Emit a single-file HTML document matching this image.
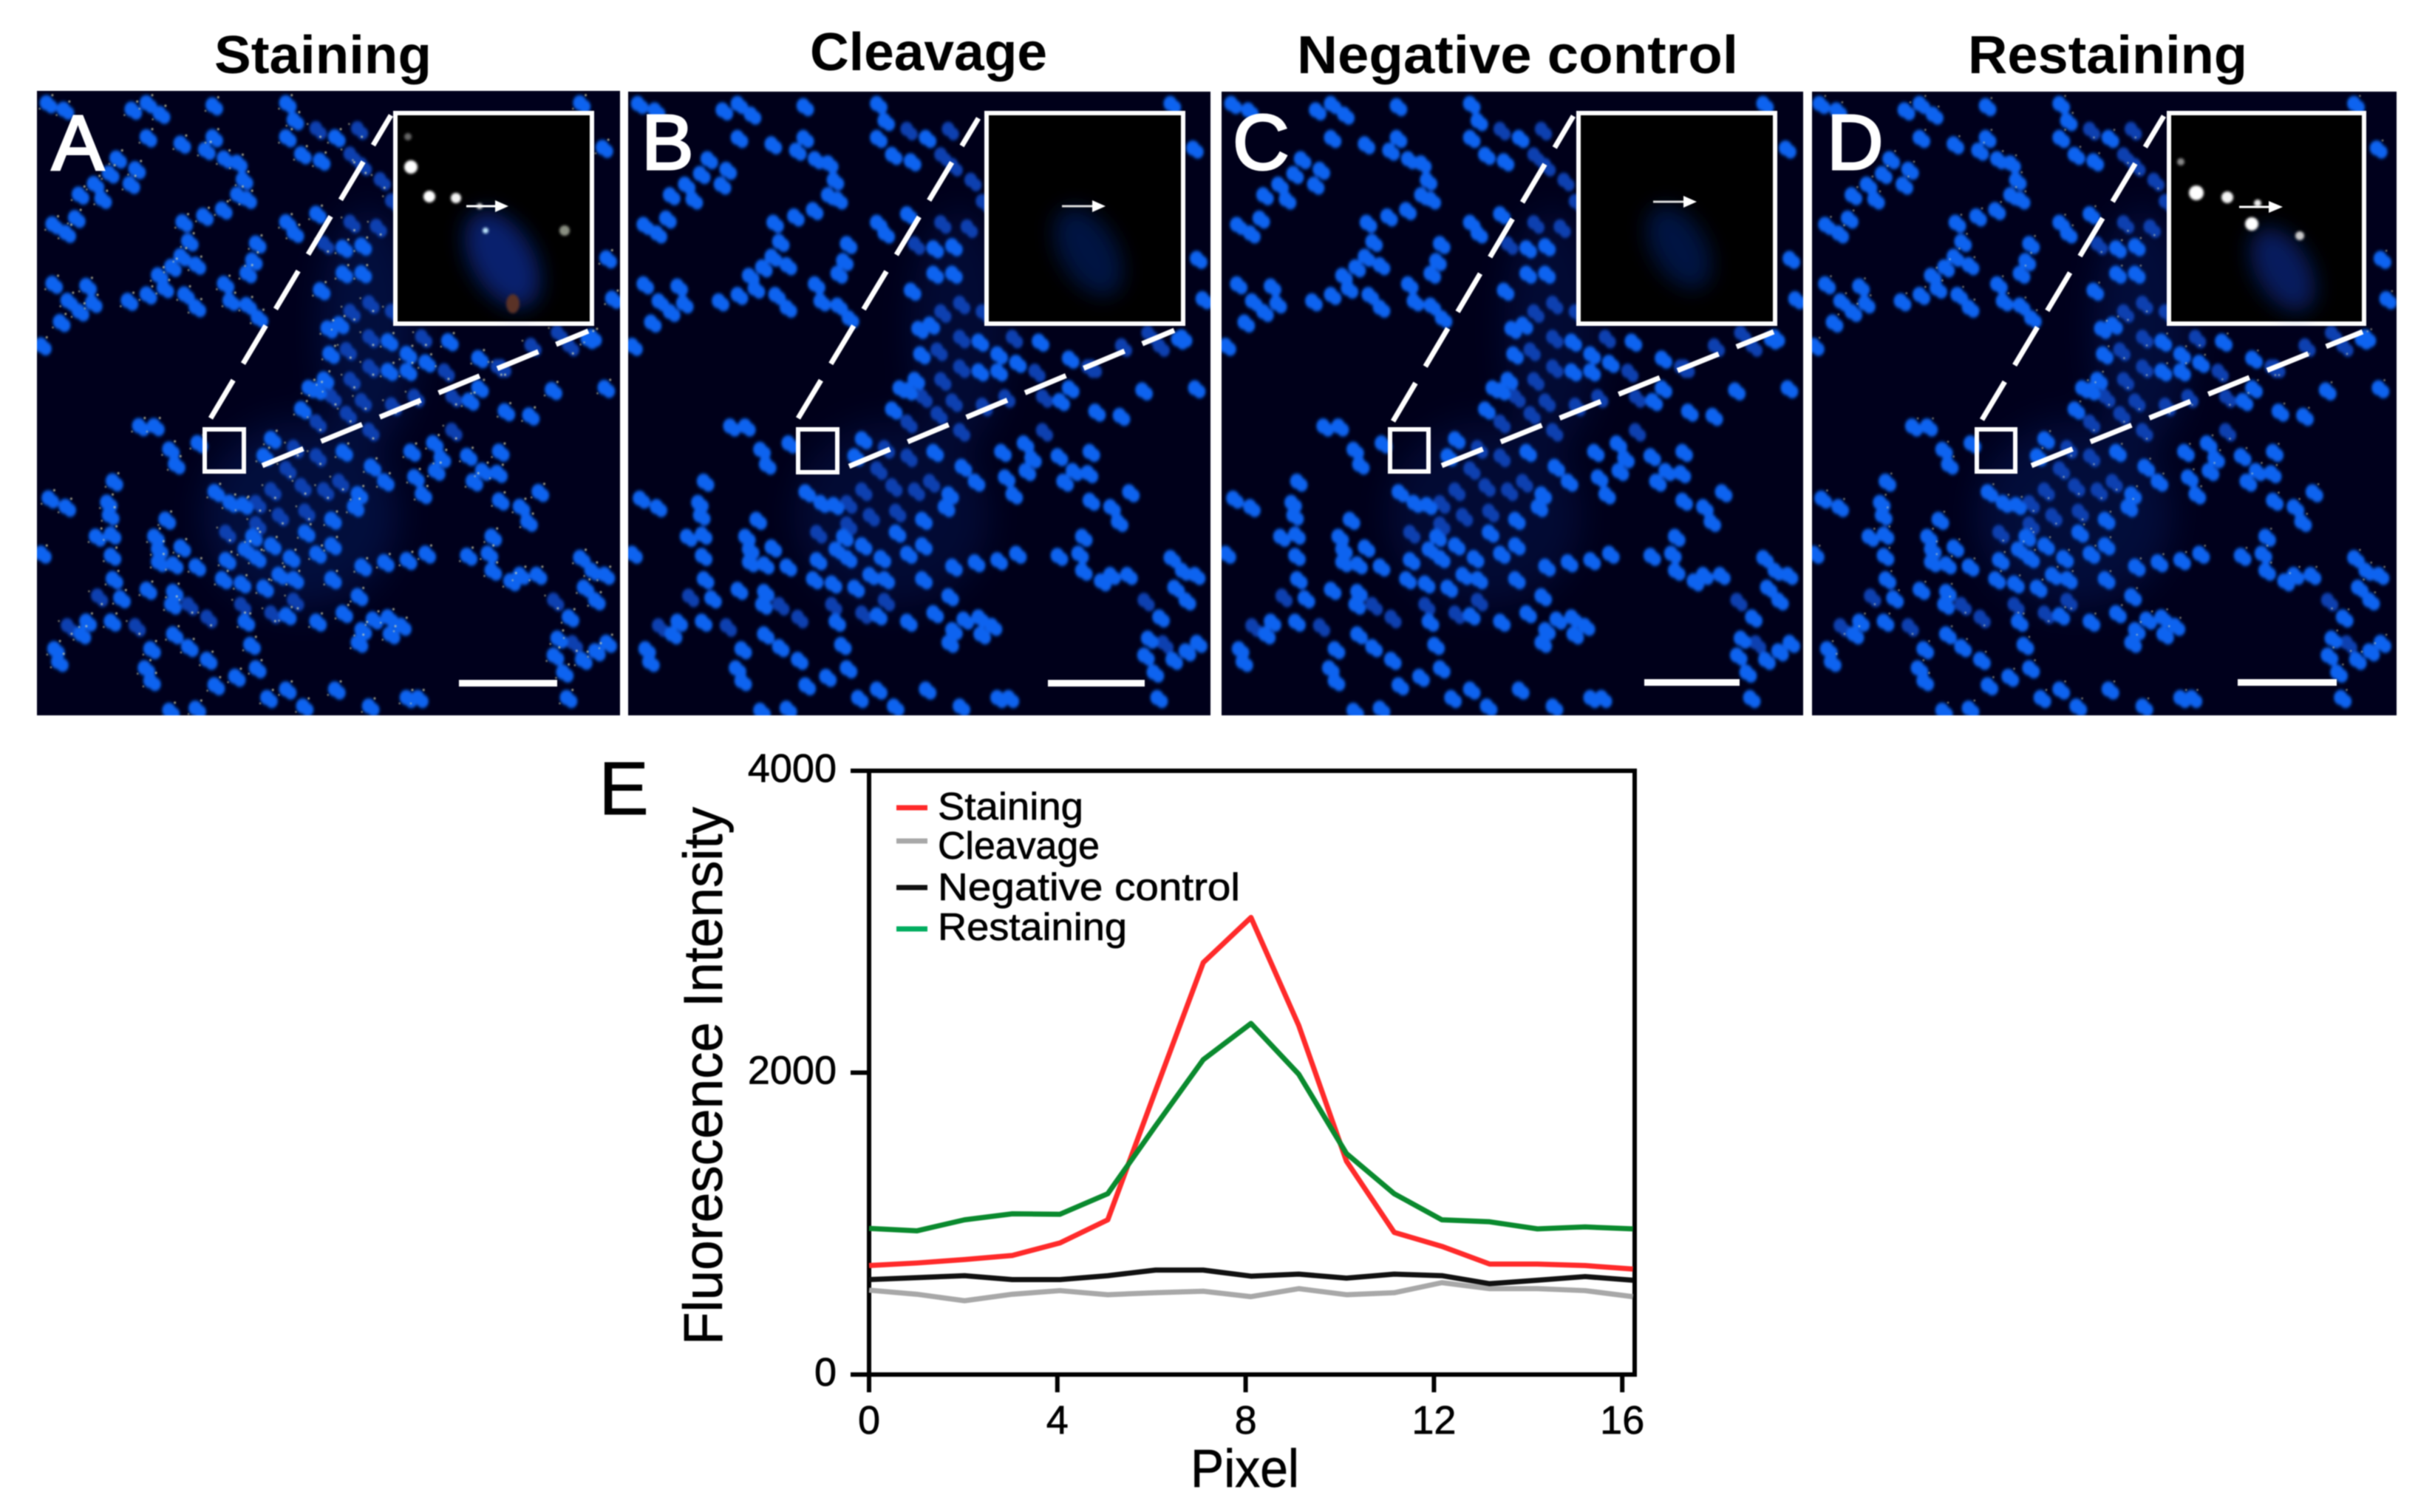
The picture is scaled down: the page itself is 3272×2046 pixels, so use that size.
<!DOCTYPE html>
<html>
<head>
<meta charset="utf-8">
<title>Fluorescence staining figure</title>
<style>
html,body{margin:0;padding:0;background:#fff;}
svg#figure{display:block;filter:blur(0.9px);}
text{font-family:"Liberation Sans",sans-serif;fill:#000;}
#chart text{stroke:#000;stroke-width:.7px;}
</style>
</head>
<body>
<svg id="figure" xmlns="http://www.w3.org/2000/svg" width="3272" height="2046" viewBox="0 0 3272 2046">
<defs>
  <filter id="soft" x="-5%" y="-5%" width="110%" height="110%"><feGaussianBlur stdDeviation="3.5"/></filter>
  <filter id="haze" x="-30%" y="-30%" width="160%" height="160%"><feGaussianBlur stdDeviation="45"/></filter>
  <filter id="ovalblur" x="-50%" y="-50%" width="200%" height="200%"><feGaussianBlur stdDeviation="14"/></filter>
  <filter id="dotblur" x="-80%" y="-80%" width="260%" height="260%"><feGaussianBlur stdDeviation="1.6"/></filter>
  <path id="nuclei-bright" fill="none" stroke-linecap="round" d="M45 70h.1M90 85h.1M270 85h.1M310 70h.1M345 95h.1M485 75h.1M310 150h.1M400 165h.1M485 150h.1M465 180h.1M515 200h.1M550 210h.1M565 250h.1M550 285h.1M575 295h.1M510 320h.1M460 335h.1M405 350h.1M420 395h.1M400 430h.1M375 455h.1M340 475h.1M310 520h.1M260 535h.1M355 505h.1M410 520h.1M440 550h.1M515 495h.1M530 535h.1M575 545h.1M605 575h.1M440 450h.1M230 200h.1M210 235h.1M170 260h.1M190 295h.1M265 260h.1M280 225h.1M130 285h.1M120 340h.1M95 375h.1M60 355h.1M60 495h.1M100 535h.1M150 500h.1M165 540h.1M130 560h.1M80 585h.1M30 640h.1M600 400h.1M590 440h.1M575 470h.1M680 350h.1M700 375h.1M680 70h.1M700 110h.1M680 150h.1M720 190h.1M770 205h.1M810 150h.1M830 410h.1M880 405h.1M770 510h.1M830 470h.1M880 470h.1M760 330h.1M790 600h.1M820 590h.1M795 660h.1M780 720h.1M740 740h.1M950 630h.1M1000 660h.1M1050 680h.1M1000 700h.1M950 700h.1M1110 630h.1M1165 770h.1M1190 740h.1M1190 670h.1M1260 795h.1M1325 805h.1M1385 745h.1M1530 435h.1M1545 530h.1M1525 740h.1M1490 620h.1M1520 175h.1M1460 70h.1M1480 625h.1M1010 890h.1M1070 870h.1M1090 905h.1M1075 935h.1M1160 900h.1M1200 935h.1M1245 890h.1M1240 940h.1M1175 960h.1M1020 950h.1M1040 990h.1M1245 1005h.1M1300 1020h.1M1350 985h.1M1320 1055h.1M290 830h.1M330 830h.1M370 885h.1M385 920h.1M445 870h.1M490 985h.1M530 1010h.1M565 1015h.1M640 860h.1M620 900h.1M720 790h.1M760 745h.1M830 890h.1M905 925h.1M940 960h.1M870 990h.1M860 1020h.1M800 1050h.1M730 1080h.1M590 1090h.1M570 1120h.1M640 1110h.1M690 1140h.1M760 1130h.1M800 1110h.1M520 1145h.1M600 1140h.1M660 1180h.1M510 1190h.1M560 1200h.1M620 1210h.1M700 1190h.1M800 1190h.1M870 1230h.1M880 1160h.1M940 1150h.1M1000 1145h.1M1050 1130h.1M1160 1135h.1M1215 1130h.1M1225 1090h.1M1225 1170h.1M1275 1195h.1M1300 1180h.1M1345 1180h.1M1460 1140h.1M1490 1170h.1M1525 1180h.1M1470 1210h.1M1500 1240h.1M1430 1280h.1M1400 1330h.1M1390 1370h.1M1465 1380h.1M1415 1410h.1M1530 1340h.1M1425 1470h.1M1500 1360h.1M30 1130h.1M220 960h.1M205 1010h.1M210 1040h.1M175 1090h.1M215 1085h.1M215 1135h.1M220 1190h.1M240 1235h.1M150 1290h.1M215 1290h.1M135 1320h.1M65 1355h.1M75 1385h.1M50 1000h.1M95 1020h.1M360 1050h.1M330 1090h.1M340 1120h.1M400 1115h.1M340 1150h.1M380 1155h.1M440 1160h.1M310 1215h.1M380 1220h.1M375 1250h.1M320 1355h.1M305 1400h.1M380 1320h.1M420 1350h.1M470 1380h.1M490 1440h.1M545 1420h.1M600 1400h.1M320 1430h.1M585 1345h.1M570 1290h.1M680 1275h.1M760 1290h.1M830 1270h.1M910 1285h.1M950 1280h.1M880 1310h.1M870 1340h.1M955 1320h.1M985 1300h.1M630 1470h.1M680 1450h.1M725 1490h.1M810 1450h.1M1000 1470h.1M1030 1470h.1M440 1495h.1M370 1500h.1M900 1490h.1"/>
  <path id="nuclei-dim" fill="none" stroke-linecap="round" d="M850 190h.1M880 215h.1M760 130h.1M870 130h.1M930 250h.1M960 300h.1M920 360h.1M780 400h.1M850 350h.1M900 540h.1M850 560h.1M960 560h.1M1040 620h.1M1100 700h.1M900 620h.1M840 650h.1M900 690h.1M850 720h.1M800 760h.1M880 770h.1M960 780h.1M1020 760h.1M900 840h.1M840 800h.1M760 820h.1M700 880h.1M680 930h.1M760 900h.1M720 970h.1M640 980h.1M600 1010h.1M780 980h.1M820 960h.1M660 1040h.1M730 1030h.1M600 1060h.1M520 1080h.1M700 1240h.1M640 1270h.1M560 1250h.1M1120 760h.1M1240 690h.1M1330 640h.1M1400 610h.1M1430 640h.1M1120 840h.1M1250 690h.1M180 1230h.1M100 1300h.1M420 1250h.1M470 1280h.1M280 1300h.1M1390 1240h.1M1440 1340h.1"/>
  <g id="tissue-a" filter="url(#soft)">
    <use href="#nuclei-dim" stroke="#0a3fb0" stroke-width="34"/>
    <use href="#nuclei-dim" transform="translate(14,12)" stroke="#0a3fb0" stroke-width="30"/>
    <use href="#nuclei-bright" stroke="#0763f0" stroke-width="36"/>
    <use href="#nuclei-bright" transform="translate(13,9)" stroke="#0763f0" stroke-width="32"/>
  </g>
</defs>

<text x="290" y="99" font-size="72" font-weight="bold" textLength="294" lengthAdjust="spacingAndGlyphs">Staining</text>
<text x="1096" y="95" font-size="72" font-weight="bold" textLength="321" lengthAdjust="spacingAndGlyphs">Cleavage</text>
<text x="1755" y="99" font-size="72" font-weight="bold" textLength="597" lengthAdjust="spacingAndGlyphs">Negative control</text>
<text x="2663" y="99" font-size="72" font-weight="bold" textLength="378" lengthAdjust="spacingAndGlyphs">Restaining</text>

<!-- Panel A -->
<g>
  <svg x="50" y="123" width="789" height="845" viewBox="20 42 1547 1470" preserveAspectRatio="none">
    <rect x="20" y="42" width="1547" height="1470" fill="#00001c"/>
    <g filter="url(#haze)" fill="#0a3fb0" opacity=".22"><ellipse cx="720" cy="1040" rx="260" ry="220"/><ellipse cx="900" cy="600" rx="130" ry="280"/></g>
    <use href="#tissue-a"/>
    <g filter="url(#dotblur)" opacity=".85">
      <use href="#nuclei-bright" transform="translate(16,-18)" stroke="#e6e4b4" stroke-width="5"/>
      <use href="#nuclei-bright" transform="translate(-18,14)" stroke="#d8d8a8" stroke-width="4"/>
      <use href="#nuclei-dim" transform="translate(12,20)" stroke="#e6e4b4" stroke-width="5"/>
      <use href="#nuclei-dim" transform="translate(-22,-10)" stroke="#d8d8a8" stroke-width="4"/>
    </g>
  </svg>
  <rect x="277" y="581" width="53" height="57" fill="none" stroke="#fff" stroke-width="6"/>
  <line x1="285" y1="566" x2="529" y2="156" stroke="#fff" stroke-width="7" stroke-dasharray="60 26"/>
  <line x1="355" y1="630" x2="796" y2="448" stroke="#fff" stroke-width="7" stroke-dasharray="60 26"/>
  <g>
    <rect x="535" y="153" width="266" height="285" fill="#000" stroke="#fff" stroke-width="6"/>
    <ellipse cx="680" cy="351" rx="42" ry="72" fill="#0a2f9c" opacity=".7" transform="rotate(-30 680 351)" filter="url(#ovalblur)"/>
    <g filter="url(#dotblur)">
      <circle cx="556" cy="226" r="9" fill="#fff"/><circle cx="581" cy="266" r="8" fill="#fff"/><circle cx="617" cy="268" r="7" fill="#f4f4f4"/><circle cx="649" cy="279" r="4" fill="#ddd"/><circle cx="657" cy="312" r="4" fill="#bfe8ff"/><circle cx="764" cy="312" r="7" fill="#8a8f82"/><circle cx="552" cy="185" r="5" fill="#666"/><ellipse cx="694" cy="411" rx="9" ry="13" fill="#5a3028"/>
    </g>
    <path d="M631 279H672" stroke="#fff" stroke-width="3"/><path d="M670 271L688 279L670 287Z" fill="#fff"/>
  </g>
  <rect x="621" y="920" width="133" height="9" fill="#fff"/>
  <text x="70" y="230" font-size="106" style="fill:#fff;stroke:#fff;stroke-width:3px">A</text>
</g>

<!-- Panel B -->
<g>
  <svg x="850" y="124" width="788" height="844" viewBox="20 42 1547 1470" preserveAspectRatio="none">
    <rect x="20" y="42" width="1547" height="1470" fill="#00001a"/>
    <g filter="url(#haze)" fill="#0a3aa8" opacity=".18"><ellipse cx="720" cy="1040" rx="260" ry="220"/><ellipse cx="900" cy="600" rx="130" ry="280"/></g>
    <use href="#tissue-a"/>
  </svg>
  <rect x="1080" y="581" width="53" height="58" fill="none" stroke="#fff" stroke-width="6"/>
  <line x1="1080" y1="566" x2="1324" y2="160" stroke="#fff" stroke-width="7" stroke-dasharray="60 26"/>
  <line x1="1149" y1="631" x2="1589" y2="447" stroke="#fff" stroke-width="7" stroke-dasharray="60 26"/>
  <g>
    <rect x="1335" y="153" width="266" height="285" fill="#000" stroke="#fff" stroke-width="6"/>
    <ellipse cx="1473" cy="341" rx="38" ry="66" fill="#06226e" opacity=".6" transform="rotate(-30 1473 341)" filter="url(#ovalblur)"/>
    <path d="M1437 279H1480" stroke="#ddd" stroke-width="3"/><path d="M1478 271L1496 279L1478 287Z" fill="#fff"/>
  </g>
  <rect x="1418" y="920" width="131" height="9" fill="#fff"/>
  <text x="868" y="229" font-size="106" style="fill:#fff;stroke:#fff;stroke-width:3px">B</text>
</g>

<!-- Panel C -->
<g>
  <svg x="1653" y="124" width="787" height="844" viewBox="20 42 1547 1470" preserveAspectRatio="none">
    <rect x="20" y="42" width="1547" height="1470" fill="#00001a"/>
    <g filter="url(#haze)" fill="#0a3aa8" opacity=".18"><ellipse cx="720" cy="1040" rx="260" ry="220"/><ellipse cx="900" cy="600" rx="130" ry="280"/></g>
    <use href="#tissue-a"/>
  </svg>
  <rect x="1881" y="581" width="52" height="57" fill="none" stroke="#fff" stroke-width="6"/>
  <line x1="1885" y1="570" x2="2129" y2="157" stroke="#fff" stroke-width="7" stroke-dasharray="60 26"/>
  <line x1="1951" y1="630" x2="2400" y2="449" stroke="#fff" stroke-width="7" stroke-dasharray="60 26"/>
  <g>
    <rect x="2136" y="153" width="266" height="285" fill="#000" stroke="#fff" stroke-width="6"/>
    <ellipse cx="2272" cy="335" rx="36" ry="62" fill="#06226e" opacity=".6" transform="rotate(-30 2272 335)" filter="url(#ovalblur)"/>
    <path d="M2237 273H2280" stroke="#ddd" stroke-width="3"/><path d="M2278 265L2296 273L2278 281Z" fill="#fff"/>
  </g>
  <rect x="2225" y="919" width="129" height="9" fill="#fff"/>
  <text x="1668" y="229" font-size="106" style="fill:#fff;stroke:#fff;stroke-width:3px">C</text>
</g>

<!-- Panel D -->
<g>
  <svg x="2452" y="124" width="791" height="844" viewBox="26 42 1547 1470" preserveAspectRatio="none">
    <rect x="20" y="42" width="1560" height="1470" fill="#00001c"/>
    <g filter="url(#haze)" fill="#0a3fb0" opacity=".2"><ellipse cx="720" cy="1040" rx="260" ry="220"/><ellipse cx="900" cy="600" rx="130" ry="280"/></g>
    <use href="#tissue-a"/>
    <g filter="url(#dotblur)" opacity=".8">
      <use href="#nuclei-bright" transform="translate(16,-18)" stroke="#e6e4b4" stroke-width="4"/>
      <use href="#nuclei-dim" transform="translate(12,20)" stroke="#e6e4b4" stroke-width="4"/>
    </g>
  </svg>
  <rect x="2675" y="581" width="52" height="57" fill="none" stroke="#fff" stroke-width="6"/>
  <line x1="2682" y1="568" x2="2928" y2="157" stroke="#fff" stroke-width="7" stroke-dasharray="60 26"/>
  <line x1="2749" y1="630" x2="3197" y2="449" stroke="#fff" stroke-width="7" stroke-dasharray="60 26"/>
  <g>
    <rect x="2935" y="153" width="264" height="285" fill="#000" stroke="#fff" stroke-width="6"/>
    <ellipse cx="3089" cy="365" rx="36" ry="62" fill="#0a2f9c" opacity=".6" transform="rotate(-30 3089 365)" filter="url(#ovalblur)"/>
    <g filter="url(#dotblur)">
      <circle cx="2951" cy="219" r="5" fill="#888"/><circle cx="2972" cy="261" r="10" fill="#fff"/><circle cx="3014" cy="267" r="8" fill="#f4f4f4"/><circle cx="3047" cy="303" r="9" fill="#fff"/><circle cx="3055" cy="275" r="5" fill="#eee"/><circle cx="3112" cy="319" r="6" fill="#ccc"/>
    </g>
    <path d="M3030 280H3072" stroke="#fff" stroke-width="3"/><path d="M3070 272L3089 280L3070 288Z" fill="#fff"/>
  </g>
  <rect x="3028" y="919" width="134" height="9" fill="#fff"/>
  <text x="2472" y="229" font-size="106" style="fill:#fff;stroke:#fff;stroke-width:3px">D</text>
</g>

<!-- Panel E chart -->
<g id="chart">
  <text x="810" y="1102" font-size="102">E</text>
  <rect x="1176" y="1043" width="1036" height="817" fill="none" stroke="#000" stroke-width="6"/>
  <text transform="translate(977,1820) rotate(-90)" font-size="74" textLength="728" lengthAdjust="spacingAndGlyphs">Fluorescence Intensity</text>
  <text x="1611" y="2012" font-size="72" textLength="147" lengthAdjust="spacingAndGlyphs">Pixel</text>
  <g id="axes"></g>
  <g id="series"></g>
  <g>
    <line x1="1213" y1="1093" x2="1255" y2="1093" stroke="#ff2a2a" stroke-width="7"/>
    <text x="1269" y="1109" font-size="52" textLength="197" lengthAdjust="spacingAndGlyphs">Staining</text>
    <line x1="1213" y1="1138" x2="1255" y2="1138" stroke="#a8a8a8" stroke-width="7"/>
    <text x="1269" y="1162" font-size="52" textLength="219" lengthAdjust="spacingAndGlyphs">Cleavage</text>
    <line x1="1213" y1="1201" x2="1255" y2="1201" stroke="#111" stroke-width="7"/>
    <text x="1269" y="1218" font-size="52" textLength="409" lengthAdjust="spacingAndGlyphs">Negative control</text>
    <line x1="1213" y1="1257" x2="1255" y2="1257" stroke="#00ad5f" stroke-width="7"/>
    <text x="1269" y="1272" font-size="52" textLength="256" lengthAdjust="spacingAndGlyphs">Restaining</text>
  </g>
</g>

<script>
const xTickValues = [0, 4, 8, 12, 16];
const yTickValues = [0, 2000, 4000];
const stainingValues = [722, 739, 762, 789, 872, 1025, 1880, 2729, 3028, 2313, 1414, 942, 849, 732, 732, 722, 699];
const cleavageValues = [559, 532, 489, 532, 556, 529, 542, 552, 516, 569, 529, 542, 609, 569, 569, 556, 516];
const negativeControlValues = [629, 642, 655, 629, 629, 655, 692, 692, 652, 665, 639, 665, 655, 602, 625, 649, 625];
const restainingValues = [968, 952, 1025, 1065, 1062, 1198, 1647, 2086, 2326, 1990, 1464, 1198, 1025, 1012, 965, 978, 965];

const SVGNS = 'http://www.w3.org/2000/svg';
function xTickScale(v) { return 1176 + v * 63.7; }
function xDataScale(v) { return 1176 + v * 64.6; }
function yScale(v) { return 1860 - v * 817 / 4000; }

const axes = document.getElementById('axes');
const seriesGroup = document.getElementById('series');

xTickValues.forEach(function (v) {
  const tick = document.createElementNS(SVGNS, 'line');
  
  
  tick.setAttribute('x1', xTickScale(v));
  tick.setAttribute('x2', xTickScale(v));
  tick.setAttribute('y1', 1860);
  tick.setAttribute('y2', 1884);
  tick.setAttribute('stroke', '#000');
  tick.setAttribute('stroke-width', 6);
  axes.appendChild(tick);
  const label = document.createElementNS(SVGNS, 'text');
  
  
  label.setAttribute('x', xTickScale(v));
  label.setAttribute('y', 1940);
  label.setAttribute('font-size', 54);
  label.setAttribute('text-anchor', 'middle');
  label.textContent = v;
  axes.appendChild(label);
});

yTickValues.forEach(function (v) {
  const tick = document.createElementNS(SVGNS, 'line');
  
  
  tick.setAttribute('x1', 1151);
  tick.setAttribute('x2', 1176);
  tick.setAttribute('y1', yScale(v));
  tick.setAttribute('y2', yScale(v));
  tick.setAttribute('stroke', '#000');
  tick.setAttribute('stroke-width', 6);
  axes.appendChild(tick);
  const label = document.createElementNS(SVGNS, 'text');
  
  
  label.setAttribute('x', 1132);
  label.setAttribute('y', yScale(v) + 15);
  label.setAttribute('font-size', 54);
  label.setAttribute('text-anchor', 'end');
  label.textContent = v;
  axes.appendChild(label);
});

function drawSeries(values, color, name) {
  const line = document.createElementNS(SVGNS, 'polyline');
  
  
  line.setAttribute('points', values.map(function (v, i) { return xDataScale(i) + ',' + yScale(v); }).join(' '));
  line.setAttribute('fill', 'none');
  line.setAttribute('stroke', color);
  line.setAttribute('stroke-width', 7);
  line.setAttribute('stroke-linejoin', 'round');
  seriesGroup.appendChild(line);
}
drawSeries(cleavageValues, '#a8a8a8', 'series-cleavage');
drawSeries(negativeControlValues, '#111111', 'series-negative-control');
drawSeries(stainingValues, '#ff2a2a', 'series-staining');
drawSeries(restainingValues, '#0a8a2e', 'series-restaining');
</script>
</svg>
</body>
</html>
